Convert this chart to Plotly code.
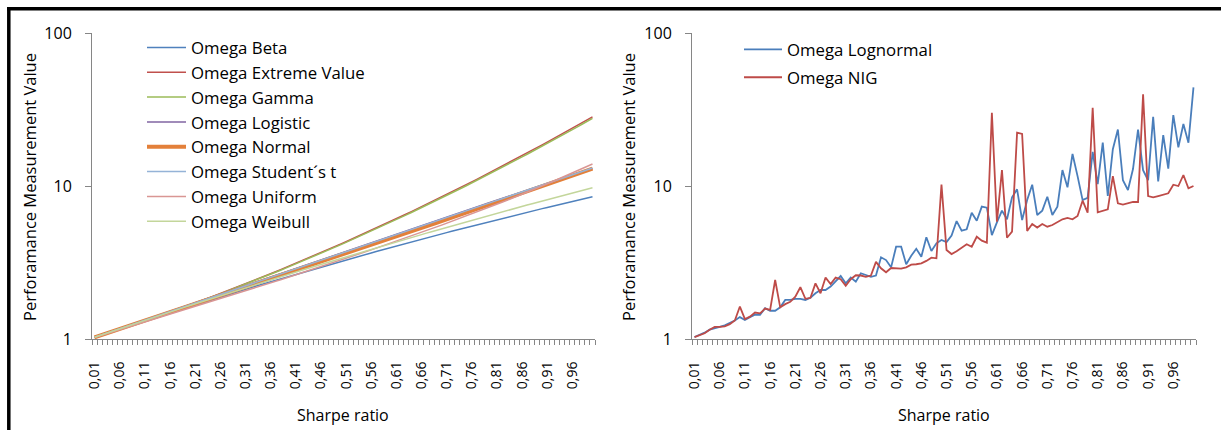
import plotly.graph_objects as go

# Sharpe ratio categories 0.01 ... 1.00
SHARPE = [i / 100 for i in range(1, 101)]
TICK_SHARPE = [0.01, 0.06, 0.11, 0.16, 0.21, 0.26, 0.31, 0.36, 0.41, 0.46,
               0.51, 0.56, 0.61, 0.66, 0.71, 0.76, 0.81, 0.86, 0.91, 0.96]
TICK_VALUE = [1, 10, 100]

# Left panel: Omega ratio by return distribution
BETA = [1.026, 1.051, 1.079, 1.106, 1.134, 1.162, 1.192, 1.222, 1.252, 1.283, 1.315, 1.347, 1.381, 1.415, 1.449, 1.485, 1.521, 1.558, 1.595, 1.634,
        1.673, 1.713, 1.754, 1.795, 1.838, 1.881, 1.925, 1.971, 2.017, 2.064, 2.111, 2.160, 2.210, 2.261, 2.312, 2.365, 2.419, 2.474, 2.530, 2.586,
        2.644, 2.703, 2.763, 2.825, 2.887, 2.951, 3.015, 3.081, 3.148, 3.216, 3.286, 3.357, 3.429, 3.502, 3.576, 3.652, 3.729, 3.808, 3.888, 3.969,
        4.051, 4.135, 4.221, 4.307, 4.396, 4.485, 4.576, 4.669, 4.763, 4.859, 4.956, 5.055, 5.155, 5.257, 5.361, 5.466, 5.572, 5.681, 5.791, 5.902,
        6.016, 6.131, 6.248, 6.366, 6.486, 6.608, 6.732, 6.858, 6.985, 7.114, 7.245, 7.378, 7.513, 7.649, 7.788, 7.928, 8.070, 8.214, 8.360, 8.508]
EXTREME = [1.024, 1.049, 1.075, 1.102, 1.129, 1.158, 1.187, 1.217, 1.249, 1.281, 1.315, 1.349, 1.385, 1.422, 1.460, 1.500, 1.541, 1.583, 1.627, 1.673,
           1.720, 1.769, 1.819, 1.871, 1.926, 1.982, 2.040, 2.100, 2.162, 2.227, 2.294, 2.364, 2.436, 2.511, 2.588, 2.669, 2.752, 2.839, 2.929, 3.023,
           3.120, 3.220, 3.325, 3.434, 3.547, 3.664, 3.786, 3.913, 4.045, 4.182, 4.324, 4.473, 4.627, 4.788, 4.955, 5.128, 5.309, 5.498, 5.694, 5.898,
           6.111, 6.333, 6.564, 6.805, 7.056, 7.318, 7.590, 7.875, 8.172, 8.481, 8.804, 9.141, 9.493, 9.861, 10.24, 10.64, 11.06, 11.50, 11.96, 12.43,
           12.93, 13.45, 14.00, 14.57, 15.16, 15.79, 16.44, 17.12, 17.83, 18.58, 19.36, 20.18, 21.04, 21.94, 22.88, 23.86, 24.90, 25.98, 27.11, 28.30]
GAMMA = [1.024, 1.049, 1.074, 1.101, 1.128, 1.156, 1.185, 1.215, 1.246, 1.278, 1.312, 1.346, 1.381, 1.418, 1.456, 1.495, 1.536, 1.578, 1.621, 1.666,
         1.713, 1.761, 1.811, 1.862, 1.916, 1.971, 2.029, 2.088, 2.149, 2.213, 2.279, 2.348, 2.419, 2.493, 2.570, 2.649, 2.731, 2.817, 2.905, 2.997,
         3.093, 3.192, 3.295, 3.402, 3.513, 3.629, 3.749, 3.873, 4.003, 4.138, 4.278, 4.424, 4.575, 4.733, 4.897, 5.068, 5.245, 5.430, 5.623, 5.824,
         6.032, 6.249, 6.476, 6.713, 6.958, 7.214, 7.482, 7.761, 8.051, 8.354, 8.671, 9.001, 9.344, 9.704, 10.08, 10.47, 10.88, 11.31, 11.75, 12.22,
         12.71, 13.21, 13.75, 14.30, 14.88, 15.49, 16.13, 16.79, 17.49, 18.22, 18.98, 19.77, 20.61, 21.48, 22.40, 23.36, 24.37, 25.42, 26.52, 27.68]
LOGISTIC = [1.027, 1.054, 1.082, 1.110, 1.140, 1.170, 1.201, 1.233, 1.265, 1.299, 1.333, 1.369, 1.405, 1.442, 1.480, 1.519, 1.560, 1.601, 1.643, 1.687,
            1.731, 1.777, 1.824, 1.872, 1.922, 1.972, 2.025, 2.078, 2.133, 2.189, 2.247, 2.306, 2.366, 2.428, 2.492, 2.558, 2.625, 2.694, 2.765, 2.838,
            2.912, 2.988, 3.066, 3.146, 3.228, 3.313, 3.399, 3.488, 3.580, 3.673, 3.769, 3.866, 3.967, 4.070, 4.176, 4.284, 4.397, 4.511, 4.629, 4.750,
            4.871, 4.997, 5.125, 5.257, 5.393, 5.532, 5.675, 5.821, 5.971, 6.127, 6.283, 6.443, 6.608, 6.777, 6.951, 7.130, 7.312, 7.500, 7.693, 7.891,
            8.090, 8.295, 8.506, 8.721, 8.944, 9.172, 9.404, 9.645, 9.889, 10.14, 10.40, 10.66, 10.93, 11.20, 11.48, 11.77, 12.07, 12.37, 12.69, 13.01]
NORMAL = [1.025, 1.051, 1.078, 1.106, 1.134, 1.162, 1.192, 1.222, 1.253, 1.285, 1.318, 1.351, 1.385, 1.421, 1.457, 1.494, 1.532, 1.571, 1.611, 1.652,
          1.694, 1.737, 1.781, 1.827, 1.873, 1.921, 1.970, 2.020, 2.072, 2.125, 2.179, 2.235, 2.292, 2.350, 2.411, 2.472, 2.536, 2.601, 2.667, 2.736,
          2.806, 2.878, 2.952, 3.028, 3.106, 3.186, 3.268, 3.352, 3.439, 3.527, 3.619, 3.712, 3.809, 3.907, 4.009, 4.113, 4.220, 4.329, 4.442, 4.558,
          4.676, 4.798, 4.923, 5.052, 5.184, 5.319, 5.458, 5.600, 5.747, 5.899, 6.053, 6.212, 6.376, 6.544, 6.717, 6.894, 7.077, 7.264, 7.456, 7.654,
          7.857, 8.066, 8.281, 8.502, 8.729, 8.962, 9.202, 9.448, 9.700, 9.961, 10.23, 10.50, 10.79, 11.08, 11.38, 11.68, 12.00, 12.32, 12.66, 13.00]
STUDENT_T = [1.026, 1.053, 1.081, 1.110, 1.139, 1.169, 1.199, 1.231, 1.263, 1.297, 1.331, 1.366, 1.401, 1.438, 1.476, 1.515, 1.554, 1.595, 1.637, 1.680,
             1.724, 1.769, 1.816, 1.863, 1.912, 1.962, 2.014, 2.066, 2.121, 2.176, 2.233, 2.291, 2.351, 2.412, 2.475, 2.540, 2.606, 2.675, 2.744, 2.816,
             2.890, 2.965, 3.043, 3.122, 3.204, 3.288, 3.374, 3.462, 3.553, 3.646, 3.740, 3.838, 3.937, 4.040, 4.145, 4.253, 4.364, 4.478, 4.595, 4.715,
             4.837, 4.962, 5.090, 5.222, 5.357, 5.496, 5.639, 5.785, 5.935, 6.091, 6.246, 6.406, 6.571, 6.741, 6.915, 7.093, 7.276, 7.464, 7.657, 7.856,
             8.057, 8.264, 8.476, 8.695, 8.919, 9.149, 9.385, 9.627, 9.875, 10.13, 10.39, 10.66, 10.94, 11.23, 11.52, 11.82, 12.13, 12.45, 12.77, 13.11]
UNIFORM = [1.023, 1.047, 1.072, 1.097, 1.122, 1.149, 1.176, 1.203, 1.231, 1.260, 1.290, 1.320, 1.351, 1.383, 1.415, 1.449, 1.483, 1.518, 1.554, 1.590,
           1.628, 1.667, 1.706, 1.747, 1.788, 1.831, 1.875, 1.920, 1.966, 2.014, 2.062, 2.112, 2.163, 2.216, 2.270, 2.325, 2.382, 2.440, 2.500, 2.562,
           2.625, 2.690, 2.757, 2.826, 2.897, 2.970, 3.044, 3.121, 3.201, 3.282, 3.366, 3.452, 3.541, 3.633, 3.727, 3.824, 3.924, 4.028, 4.134, 4.244,
           4.357, 4.474, 4.594, 4.718, 4.846, 4.979, 5.115, 5.257, 5.403, 5.553, 5.709, 5.870, 6.037, 6.209, 6.388, 6.573, 6.764, 6.962, 7.167, 7.380,
           7.601, 7.830, 8.067, 8.313, 8.569, 8.835, 9.111, 9.398, 9.696, 10.01, 10.33, 10.67, 11.02, 11.38, 11.76, 12.16, 12.57, 13.00, 13.46, 13.93]
WEIBULL = [1.026, 1.053, 1.080, 1.108, 1.137, 1.166, 1.196, 1.227, 1.259, 1.291, 1.324, 1.357, 1.392, 1.427, 1.463, 1.500, 1.538, 1.576, 1.616, 1.656,
           1.697, 1.739, 1.782, 1.826, 1.871, 1.917, 1.964, 2.012, 2.061, 2.111, 2.163, 2.215, 2.268, 2.323, 2.379, 2.436, 2.494, 2.553, 2.614, 2.676,
           2.739, 2.804, 2.869, 2.937, 3.005, 3.075, 3.147, 3.220, 3.294, 3.370, 3.448, 3.527, 3.608, 3.690, 3.774, 3.859, 3.947, 4.036, 4.127, 4.219,
           4.314, 4.410, 4.508, 4.608, 4.710, 4.814, 4.920, 5.028, 5.138, 5.250, 5.364, 5.480, 5.599, 5.719, 5.842, 5.968, 6.095, 6.225, 6.357, 6.492,
           6.629, 6.769, 6.911, 7.056, 7.203, 7.353, 7.505, 7.661, 7.819, 7.979, 8.143, 8.309, 8.478, 8.651, 8.826, 9.004, 9.185, 9.370, 9.557, 9.747]

# Right panel: Omega ratio, lognormal and NIG fits
LOGNORMAL = [1.03, 1.06, 1.10, 1.15, 1.17, 1.20, 1.23, 1.27, 1.32, 1.39, 1.33, 1.39, 1.44, 1.44, 1.59, 1.53, 1.53, 1.61, 1.80, 1.80,
             1.83, 1.83, 1.80, 1.86, 1.99, 2.09, 2.09, 2.20, 2.37, 2.58, 2.31, 2.52, 2.37, 2.69, 2.62, 2.55, 2.60, 3.42, 3.28, 2.94,
             4.01, 4.01, 3.08, 3.50, 3.89, 3.45, 4.62, 3.76, 4.22, 4.44, 4.30, 4.75, 5.90, 5.10, 5.21, 6.69, 5.93, 7.33, 7.22, 4.78,
             5.78, 6.90, 6.06, 8.44, 9.51, 5.99, 8.10, 10.2, 6.46, 6.90, 8.51, 6.46, 7.33, 12.7, 9.80, 16.2, 11.6, 8.09, 8.37, 16.7,
             10.3, 19.2, 8.60, 17.4, 23.4, 10.9, 9.42, 12.9, 23.4, 12.7, 10.9, 28.3, 10.7, 21.5, 13.0, 29.1, 17.9, 25.4, 19.2, 44.1]
NIG = [1.03, 1.06, 1.09, 1.15, 1.20, 1.20, 1.21, 1.25, 1.32, 1.63, 1.35, 1.40, 1.49, 1.47, 1.58, 1.55, 2.43, 1.61, 1.69, 1.75,
       1.89, 2.18, 1.83, 1.86, 2.31, 1.99, 2.52, 2.29, 2.52, 2.46, 2.23, 2.46, 2.61, 2.60, 2.55, 2.60, 3.19, 2.90, 2.73, 2.91,
       2.88, 2.88, 2.94, 3.06, 3.08, 3.12, 3.24, 3.40, 3.37, 10.2, 3.82, 3.59, 3.74, 3.97, 4.16, 4.01, 4.66, 4.39, 4.26, 30.1,
       5.84, 12.7, 4.59, 5.03, 22.3, 21.9, 5.08, 5.64, 5.35, 5.64, 5.42, 5.56, 5.84, 6.06, 6.18, 6.06, 6.37, 8.02, 6.69, 32.5,
       6.73, 6.87, 7.04, 11.6, 7.71, 7.55, 7.71, 7.86, 7.86, 39.7, 8.60, 8.44, 8.60, 8.73, 8.96, 10.2, 10.0, 11.8, 9.66, 10.0]

LEFT_SERIES = [
    ("Omega Beta", BETA, "#4F81BD", 1.5),
    ("Omega Extreme Value", EXTREME, "#C0504D", 1.5),
    ("Omega Gamma", GAMMA, "#9BBB59", 1.5),
    ("Omega Logistic", LOGISTIC, "#8064A2", 1.5),
    ("Omega Normal", NORMAL, "#E3803A", 4),
    ("Omega Student\u00b4s t", STUDENT_T, "#95B3D7", 1.5),
    ("Omega Uniform", UNIFORM, "#D99694", 1.5),
    ("Omega Weibull", WEIBULL, "#C3D69B", 1.5),
]
RIGHT_SERIES = [
    ("Omega Lognormal", LOGNORMAL, "#4A7EBB", 1.8),
    ("Omega NIG", NIG, "#BE4B48", 1.8),
]

W, H = 1221, 430
FONT = "Open Sans"
GREY = "#868686"


def fx(px):
    return px / W


def fy(px):
    return 1 - px / H


fig = go.Figure()
for name, vals, color, width in LEFT_SERIES:
    fig.add_trace(go.Scatter(x=SHARPE, y=vals, mode="lines", name=name,
                             line=dict(color=color, width=width),
                             xaxis="x", yaxis="y", legend="legend"))
for name, vals, color, width in RIGHT_SERIES:
    fig.add_trace(go.Scatter(x=SHARPE, y=vals, mode="lines", name=name,
                             legendgroup=name,
                             line=dict(color=color, width=width),
                             xaxis="x2", yaxis="y2", legend="legend2"))


def x_axis(domain, anchor):
    return dict(domain=domain, anchor=anchor, range=[0.005, 1.005],
                automargin=False,
                tickmode="array", tickvals=TICK_SHARPE, tickformat=".2f",
                tickangle=-90, ticks="", ticklabelstandoff=16,
                tickfont=dict(size=14, family=FONT, color="black"),
                showline=True, linecolor=GREY, linewidth=1,
                showgrid=False, zeroline=False,
                minor=dict(tickmode="linear", tick0=0.005, dtick=0.01,
                           ticks="outside", ticklen=5, tickcolor=GREY,
                           tickwidth=1, showgrid=False))


def y_axis(domain, anchor):
    return dict(domain=domain, anchor=anchor, type="log", range=[0, 2],
                automargin=False,
                tickmode="array", tickvals=TICK_VALUE,
                ticks="outside", ticklen=6, tickcolor=GREY, tickwidth=1,
                ticklabelstandoff=10,
                tickfont=dict(size=16, family=FONT, color="black"),
                showline=True, linecolor=GREY, linewidth=1,
                showgrid=False, zeroline=False)


YDOM = [fy(339), fy(33)]
LEFT_DOM = [fx(92), fx(595)]
RIGHT_DOM = [fx(692), fx(1196)]

legend_common = dict(xanchor="left", yanchor="top", bgcolor="rgba(0,0,0,0)",
                     borderwidth=0, font=dict(size=16.8, family=FONT, color="black"),
                     itemclick=False, itemdoubleclick=False)

fig.update_layout(
    width=W, height=H, autosize=False,
    margin=dict(l=0, r=0, t=0, b=0, pad=0, autoexpand=False),
    paper_bgcolor="white", plot_bgcolor="white",
    separators=",.",
    font=dict(family=FONT, color="black"),
    showlegend=True,
    xaxis=x_axis(LEFT_DOM, "y"),
    yaxis=y_axis(YDOM, "x"),
    xaxis2=x_axis(RIGHT_DOM, "y2"),
    yaxis2=y_axis(YDOM, "x2"),
    legend=dict(x=fx(142), y=fy(30), itemwidth=39, **legend_common),
    legend2=dict(x=fx(739), y=fy(32), itemwidth=38, traceorder="grouped",
                 tracegroupgap=3, **legend_common),
    annotations=[
        dict(text="Sharpe ratio", x=(LEFT_DOM[0] + LEFT_DOM[1]) / 2, y=fy(415),
             xref="paper", yref="paper", showarrow=False,
             xanchor="center", yanchor="middle", font=dict(size=16)),
        dict(text="Sharpe ratio", x=(RIGHT_DOM[0] + RIGHT_DOM[1]) / 2, y=fy(415),
             xref="paper", yref="paper", showarrow=False,
             xanchor="center", yanchor="middle", font=dict(size=16)),
        dict(text="Perforamance Measurement Value", x=fx(29), y=fy(187),
             xref="paper", yref="paper", showarrow=False, textangle=-90,
             xanchor="center", yanchor="middle", font=dict(size=16.5)),
        dict(text="Perforamance Measurement Value", x=fx(628), y=fy(187),
             xref="paper", yref="paper", showarrow=False, textangle=-90,
             xanchor="center", yanchor="middle", font=dict(size=16.5)),
    ],
    shapes=[
        dict(type="line", xref="paper", yref="paper",
             x0=fx(8.8), x1=fx(8.8), y0=0, y1=fy(7),
             line=dict(color="black", width=3.5)),
        dict(type="line", xref="paper", yref="paper",
             x0=fx(7), x1=1, y0=fy(8.8), y1=fy(8.8),
             line=dict(color="black", width=3.5)),
    ],
)

# Page body without default margins so the figure sits flush in the window
fig.write_html("out.html", config={"displayModeBar": False},
               post_script="document.body.style.margin='0';"
                           "document.body.style.overflow='hidden';")
